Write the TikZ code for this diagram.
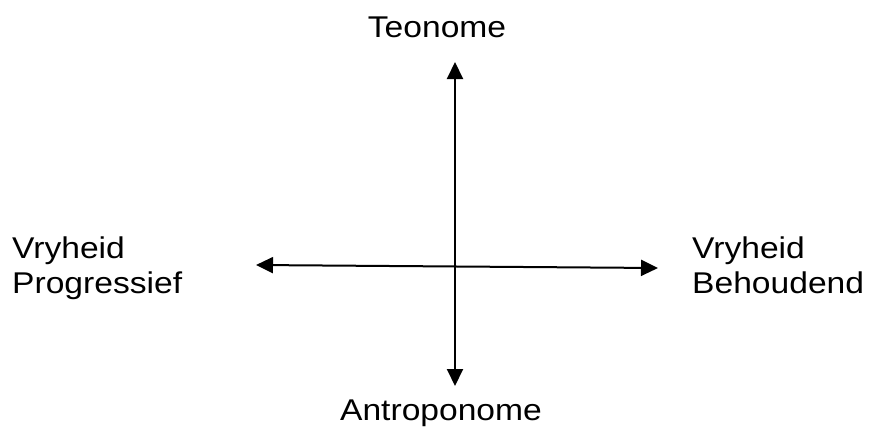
\documentclass[tikz,border=0pt]{standalone}
\usepackage{fontspec}
\setmainfont{Liberation Sans}[FakeStretch=1.12]
\usetikzlibrary{arrows.meta}
\begin{document}
\begin{tikzpicture}[x=1pt,y=-1pt,
  lbl/.style={font=\fontsize{30}{35}\selectfont, inner sep=0pt, align=left},
  axis/.style={line width=2pt, {Triangle[length=17pt,width=16pt]}-{Triangle[length=17pt,width=16pt]}}]
\useasboundingbox (0,0) rectangle (870,426);
\coordinate (top) at (455,62);
\coordinate (bot) at (455,386);
\coordinate (lft) at (256,265);
\coordinate (rgt) at (658,268);
\draw[axis] (bot) -- (top);
\draw[axis] (lft) -- (rgt);
\node[lbl, anchor=base] (teo) at (437,37) {Teonome};
\node[lbl, anchor=base] (ant) at (441,420) {Antroponome};
\node[lbl, anchor=base west] (vp) at (12,293) {Vryheid\\Progressief};
\node[lbl, anchor=base west] (vb) at (692,293) {Vryheid\\Behoudend};
\end{tikzpicture}
\end{document}
